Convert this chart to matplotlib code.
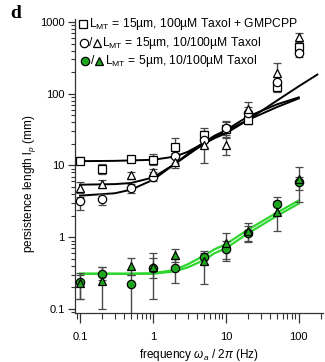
import matplotlib
matplotlib.use("Agg")
import matplotlib.pyplot as plt
import numpy as np

plt.rcParams['font.family'] = ['Liberation Sans', 'DejaVu Sans']
plt.rcParams['mathtext.fontset'] = 'custom'
plt.rcParams['mathtext.rm'] = 'Liberation Sans'
plt.rcParams['mathtext.it'] = 'Liberation Sans:italic'

# measured points (frequency in Hz, persistence length in mm)
freq = [0.1, 0.2, 0.5, 1, 2, 5, 10, 20, 50, 100]

# L_MT = 15um, 100uM Taxol + GMPCPP (open squares)
sq_lp = [11.7, 8.9, 12.4, 12.0, 18.0, 26.5, 32.0, 43.0, 125.0, 450.0]
sq_lo = [10.5, 7.5, 11.5, 10.0, 15.0, 22.0, 27.0, 38.0, 107.0, 400.0]
sq_hi = [13.0, 10.5, 13.5, 14.5, 23.9, 33.0, 40.0, 52.0, 150.0, 520.0]

# L_MT = 15um, 10uM Taxol (open circles)
ci_lp = [3.2, 3.4, 4.8, 7.0, 13.6, 23.0, 33.0, 54.0, 147.0, 366.0]
ci_lo = [2.4, 2.8, 4.1, 6.0, 11.0, 18.0, 25.0, 45.0, 125.0, 330.0]
ci_hi = [3.6, 4.0, 5.6, 8.0, 16.0, 30.0, 42.0, 65.0, 170.0, 420.0]

# L_MT = 15um, 100uM Taxol (open triangles)
tr_lp = [4.8, 5.5, 7.4, 8.0, 11.3, 19.3, 19.3, 61.0, 193.0, 624.0]
tr_lo = [4.2, 4.8, 6.5, 7.0, 9.1, 10.8, 14.0, 50.0, 150.0, 500.0]
tr_hi = [5.8, 6.2, 8.2, 9.0, 13.5, 26.0, 24.0, 77.0, 270.0, 700.0]

# L_MT = 5um, 10uM Taxol (green circles)
gc_lp = [0.235, 0.31, 0.22, 0.37, 0.37, 0.53, 0.69, 1.16, 2.88, 5.8]
gc_lo = [0.14, 0.25, 0.01, 0.27, 0.23, 0.42, 0.50, 0.85, 2.2, 4.5]
gc_hi = [0.32, 0.39, 0.30, 0.52, 0.50, 0.65, 0.90, 1.45, 3.6, 7.0]

# L_MT = 5um, 100uM Taxol (green triangles)
gt_lp = [0.23, 0.245, 0.40, 0.39, 0.57, 0.46, 0.82, 1.24, 2.27, 6.5]
gt_lo = [0.14, 0.10, 0.30, 0.14, 0.45, 0.22, 0.47, 0.90, 1.23, 3.1]
gt_hi = [0.30, 0.38, 0.51, 0.61, 0.68, 0.60, 1.15, 1.60, 3.20, 9.6]

# fitted curves
fit_sq_f = [0.1, 0.3, 1, 2, 3, 5, 7, 10, 20, 50, 100]
fit_sq_lp = [11.5, 11.6, 12.0, 13.3, 15.5, 20.5, 25.0, 30.0, 43.0, 65.0, 86.0]
fit_tr_f = [0.1, 0.3, 0.5, 1, 2, 3, 5, 7, 10, 20, 50, 100, 180]
fit_tr_lp = [5.4, 5.5, 5.7, 6.8, 10.5, 14.0, 20.0, 24.0, 28.0, 43.0, 80.0, 127.0, 185.0]
fit_ci_f = [0.1, 0.3, 0.5, 1, 2, 3, 5, 7, 10, 20, 50, 100]
fit_ci_lp = [3.8, 4.1, 4.6, 6.3, 10.5, 14.5, 21.0, 26.0, 31.0, 48.0, 71.0, 89.0]
fit_g1_f = [0.1, 0.5, 1, 2, 3, 5, 7, 10, 20, 50, 100]
fit_g1_lp = [0.31, 0.31, 0.315, 0.35, 0.42, 0.55, 0.68, 0.80, 1.27, 2.2, 3.25]
fit_g2_f = [0.1, 0.5, 1, 2, 3, 5, 7, 10, 20, 50, 100]
fit_g2_lp = [0.31, 0.31, 0.31, 0.335, 0.38, 0.48, 0.60, 0.70, 1.13, 1.98, 2.95]

GREEN_LINE = '#2fd62f'
GREEN_FILL = '#1fa61f'
ERR = '#4a4a4a'


def errs(val, lo, hi):
    val = np.asarray(val)
    return [val - np.asarray(lo), np.asarray(hi) - val]


fig = plt.figure(figsize=(3.25, 3.62), dpi=100)
ax = fig.add_axes([75 / 325, 1 - 313 / 362, 248 / 325, (313 - 19) / 362])

# fits
ax.plot(fit_sq_f, fit_sq_lp, color='k', lw=1.4, zorder=2)
ax.plot(fit_tr_f, fit_tr_lp, color='k', lw=1.4, zorder=2)
ax.plot(fit_ci_f, fit_ci_lp, color='k', lw=1.4, zorder=2)
ax.plot(fit_g1_f, fit_g1_lp, color=GREEN_LINE, lw=1.6, zorder=2)
ax.plot(fit_g2_f, fit_g2_lp, color=GREEN_LINE, lw=1.6, zorder=2)

# data with error bars
kw = dict(ls='none', ms=6, mew=0.9, elinewidth=1.0, ecolor=ERR,
          capsize=3, capthick=1.0, zorder=3)
ax.errorbar(freq, sq_lp, yerr=errs(sq_lp, sq_lo, sq_hi), marker='s',
            mfc='white', mec='k', **kw)
ax.errorbar(freq, ci_lp, yerr=errs(ci_lp, ci_lo, ci_hi), marker='o',
            mfc='white', mec='k', **kw)
ax.errorbar(freq, tr_lp, yerr=errs(tr_lp, tr_lo, tr_hi), marker='^',
            mfc='white', mec='k', **kw)
ax.errorbar(freq, gc_lp, yerr=errs(gc_lp, gc_lo, gc_hi), marker='o',
            mfc=GREEN_FILL, mec='k', **kw)
ax.errorbar(freq, gt_lp, yerr=errs(gt_lp, gt_lo, gt_hi), marker='^',
            mfc=GREEN_FILL, mec='k', **kw)

ax.set_xscale('log')
ax.set_yscale('log')
ax.set_xlim(0.0855, 215)
ax.set_ylim(0.088, 1100)

for s in ['top', 'right']:
    ax.spines[s].set_visible(False)
for s in ['left', 'bottom']:
    ax.spines[s].set_linewidth(0.9)
    ax.spines[s].set_color('#333333')

ax.set_xticks([0.1, 1, 10, 100])
ax.set_xticklabels(['0.1', '1', '10', '100'])
ax.set_yticks([0.1, 1, 10, 100, 1000])
ax.set_yticklabels(['0.1', '1', '10', '100', '1000'])
ax.tick_params(which='both', direction='out', color='#333333', labelsize=8)
ax.tick_params(axis='x', which='major', length=7, width=0.9, pad=7)
ax.tick_params(axis='x', which='minor', length=4, width=0.8)
ax.tick_params(axis='y', which='major', length=5, width=0.9, pad=2.5)
ax.tick_params(axis='y', which='minor', length=3, width=0.8)

ax.set_xlabel(r'frequency $\omega_a$ / 2$\pi$ (Hz)', fontsize=8.5, labelpad=3)
ax.set_ylabel(r'persistence length l$_p$ (mm)', fontsize=8.5)
ax.yaxis.set_label_coords(-0.15, 0.44)

# legend drawn by hand
rows_y = [1 - 24 / 362, 1 - 43 / 362, 1 - 61 / 362]
tf = fig.transFigure
ax.plot([83 / 325], [rows_y[0]], marker='s', ms=6, mfc='white', mec='k',
        mew=0.9, transform=tf, clip_on=False)
fig.text(89 / 325, rows_y[0], r'L$_{\mathrm{MT}}$ = 15µm, 100µM Taxol + GMPCPP',
         fontsize=8.7, va='center', ha='left')
ax.plot([84 / 325], [rows_y[1]], marker='o', ms=6, mfc='white', mec='k',
        mew=0.9, transform=tf, clip_on=False)
fig.text(91 / 325, rows_y[1], '/', fontsize=8.7, va='center', ha='center')
ax.plot([97 / 325], [rows_y[1]], marker='^', ms=6, mfc='white', mec='k',
        mew=0.9, transform=tf, clip_on=False)
fig.text(102 / 325, rows_y[1], r'L$_{\mathrm{MT}}$ = 15µm, 10/100µM Taxol',
         fontsize=8.7, va='center', ha='left')
ax.plot([85 / 325], [rows_y[2]], marker='o', ms=6, mfc=GREEN_FILL, mec='k',
        mew=0.9, transform=tf, clip_on=False)
fig.text(93 / 325, rows_y[2], '/', fontsize=8.7, va='center', ha='center')
ax.plot([99 / 325], [rows_y[2]], marker='^', ms=6, mfc=GREEN_FILL, mec='k',
        mew=0.9, transform=tf, clip_on=False)
fig.text(105 / 325, rows_y[2], r'L$_{\mathrm{MT}}$ = 5µm, 10/100µM Taxol',
         fontsize=8.7, va='center', ha='left')

fig.text(10 / 325, 1 - 14 / 362, 'd', fontsize=14, fontweight='bold',
         family='Liberation Serif', va='center', ha='left')

fig.savefig('out.png', dpi=100)
